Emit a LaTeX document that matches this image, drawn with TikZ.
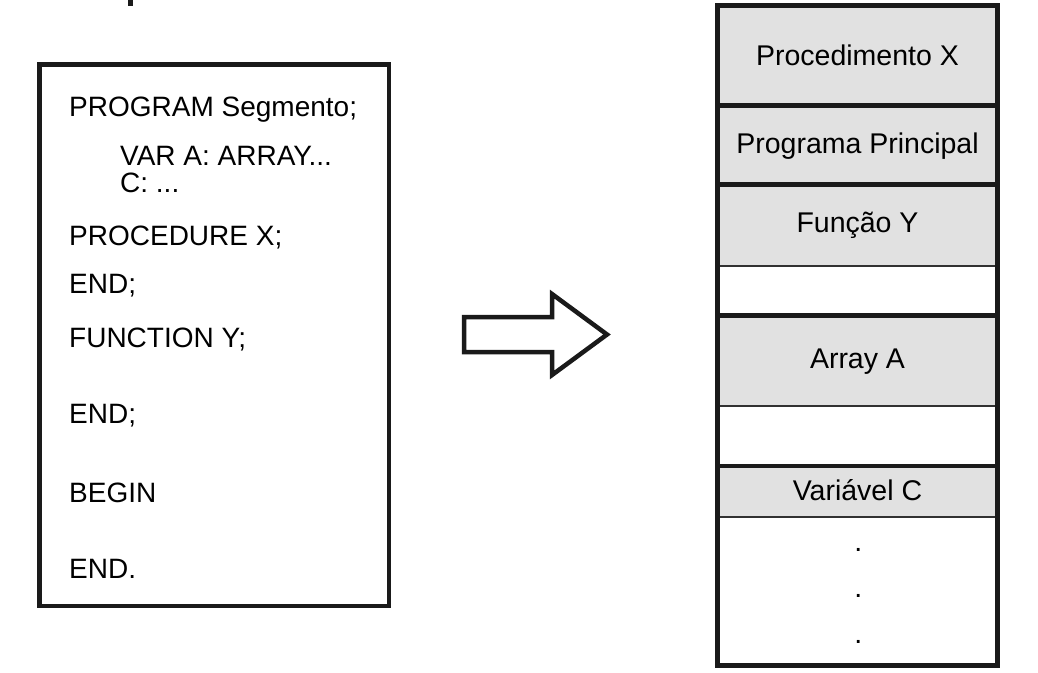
\documentclass[tikz,border=0pt]{standalone}
\usepackage{fontspec}
\setmainfont{Liberation Sans}
\definecolor{cellgray}{HTML}{E1E1E1}
\definecolor{ink}{HTML}{1A1A1A}
\tikzset{
  codeline/.style={anchor=base west, inner sep=0pt, font=\fontsize{28}{26.5}\selectfont},
  celltext/.style={anchor=base, inner sep=0pt, font=\fontsize{28.5}{30}\selectfont},
  heavy/.style={draw=ink, line width=4.5pt},
  light/.style={draw=ink!90, line width=2pt},
}

\begin{document}
\begin{tikzpicture}[x=1pt, y=-1pt]
  \useasboundingbox (0,0) rectangle (1038,672);
  \fill[ink] (128,0) rectangle (133,6);

  % source program
  \draw[heavy] (39.5,64.5) rectangle (389,606);
  \node[codeline] (prog) at (69,116) {PROGRAM Segmento;};
  \node[codeline, align=left] (vars) at (120,192) {VAR A: ARRAY...\\C: ...};
  \node[codeline] (procx) at (69,245) {PROCEDURE X;}; \node[codeline] (endx) at (69,293) {END;};
  \node[codeline] (funcy) at (69,347) {FUNCTION Y;}; \node[codeline] (endy) at (69,423) {END;};
  \node[codeline] (begin) at (69,502) {BEGIN}; \node[codeline] (endp) at (69,578) {END.};

  % arrow
  \draw[heavy, fill=white, line join=miter]
    (464,317) -- (552,317) -- (552,294) -- (607,334.5) -- (552,375) -- (552,352) -- (464,352) -- cycle;

  % memory
  \fill[cellgray] (717.5,5.3) rectangle (997.5,265.7);
  \fill[cellgray] (717.5,315.5) rectangle (997.5,406);
  \fill[cellgray] (717.5,466) rectangle (997.5,516.5);
  \foreach \y in {265.7,406,516.5}
    \draw[light] (717.5,\y) -- (997.5,\y);
  \foreach \y in {105.5,184.5,315.5,466}
    \draw[heavy] (717.5,\y) -- (997.5,\y);
  \draw[heavy] (717.5,5.3) rectangle (997.5,665.5);

  \node[celltext] (mprocx) at (857.5,65) {Procedimento X};
  \node[celltext] (mprinc) at (857.5,153.5) {Programa Principal};
  \node[celltext] (mfuncy) at (857.5,232) {Função Y};
  \node[celltext] (marraya) at (857.5,368) {Array A};
  \node[celltext] (mvarc) at (857.5,500.5) {Variável C};
  \foreach \i/\y in {1/551,2/597,3/643}
    \node[celltext] (dot\i) at (858.3,\y) {.};
\end{tikzpicture}
\end{document}
